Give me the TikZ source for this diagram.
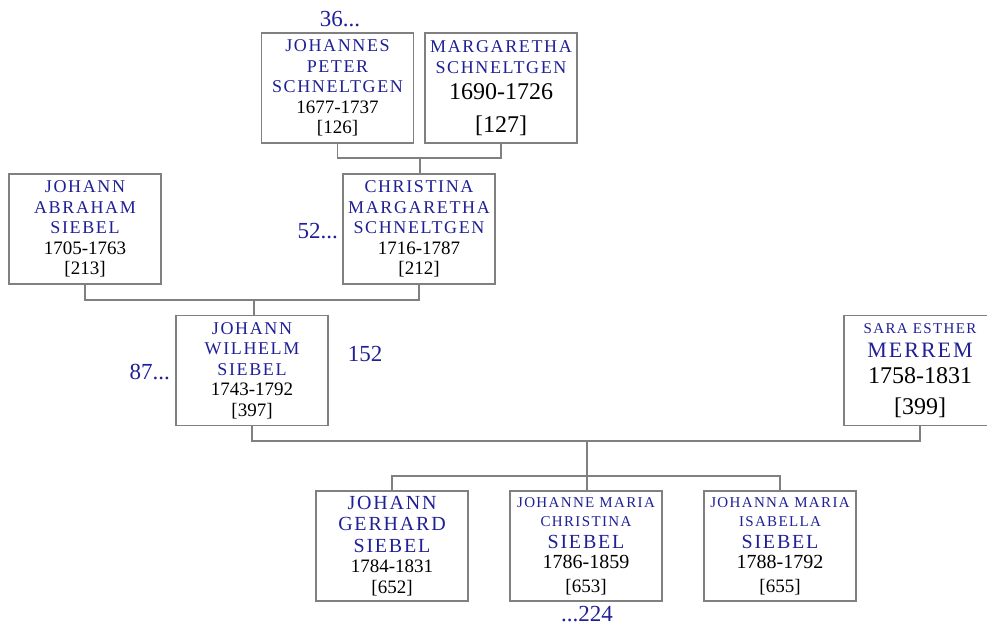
\documentclass[tikz,border=0pt]{standalone}
\usepackage{fontspec}
\setmainfont{Liberation Serif}
\newfontfamily\capsfont[LetterSpace=9]{Liberation Serif}
\definecolor{nameblue}{RGB}{32,32,150}
\definecolor{boxgray}{RGB}{128,128,128}
\newcommand\nm[1]{{\capsfont\fontsize{18}{20.5}\selectfont\color{nameblue}#1}}
\newcommand\ns[1]{{\capsfont\fontsize{15}{20.5}\selectfont\color{nameblue}#1}}
\newcommand\nb[1]{{\capsfont\fontsize{22}{20.5}\selectfont\color{nameblue}#1}}
\newcommand\nt[1]{{\capsfont\fontsize{20}{20.5}\selectfont\color{nameblue}#1}}
\newcommand\dt[1]{{\rmfamily\fontsize{19}{20.5}\selectfont\color{black}#1}}
\newcommand\dm[1]{{\rmfamily\fontsize{20}{20.5}\selectfont\color{black}#1}}
\newcommand\bd[1]{{\rmfamily\fontsize{24}{20.5}\selectfont\color{black}#1}}
\tikzset{
  person/.style={draw=boxgray, line width=1.3pt, minimum width=152pt, minimum height=110pt, inner sep=0pt, align=center, fill=white, font=\fontsize{18}{20.5}\selectfont},
  conn/.style={draw=boxgray, line width=1.3pt},
  gen/.style={text=nameblue, font=\rmfamily\fontsize{23}{26}\selectfont, inner sep=0pt}
}
\begin{document}
\begin{tikzpicture}[x=1pt,y=-1pt]
\useasboundingbox (0,0) rectangle (987,626);
\clip (0,0) rectangle (987,626);
% nodes
\node[person] (jps) at (337.5,88) {\nm{JOHANNES}\\\nm{PETER}\\\nm{SCHNELTGEN}\\\dt{1677-1737}\\\dt{[126]}};
\node[person] (ms) at (501,88) {\nm{MARGARETHA}\\\nm{SCHNELTGEN}\\[6pt]\bd{1690-1726}\\[12pt]\bd{[127]}};
\node[person] (jas) at (85,229) {\nm{JOHANN}\\\nm{ABRAHAM}\\\nm{SIEBEL}\\\dt{1705-1763}\\\dt{[213]}};
\node[person] (cms) at (419,229) {\nm{CHRISTINA}\\\nm{MARGARETHA}\\\nm{SCHNELTGEN}\\\dt{1716-1787}\\\dt{[212]}};
\node[person] (jws) at (252,370.5) {\nm{JOHANN}\\\nm{WILHELM}\\\nm{SIEBEL}\\\dt{1743-1792}\\\dt{[397]}};
\node[person] (sem) at (920,370.5) {\ns{SARA ESTHER}\\[3pt]\nb{MERREM}\\[6pt]\bd{1758-1831}\\[10pt]\bd{[399]}};
\node[person] (jgs) at (392,546) {\nt{JOHANN}\\[1pt]\nt{GERHARD}\\[1pt]\nt{SIEBEL}\\\dt{1784-1831}\\\dt{[652]}};
\node[person] (jmcs) at (586,546) {\ns{JOHANNE MARIA}\\[-1pt]\ns{CHRISTINA}\\[1pt]\nt{SIEBEL}\\\dm{1786-1859}\\[3pt]\dt{[653]}};
\node[person] (jmis) at (780,546) {\ns{JOHANNA MARIA}\\[-1pt]\ns{ISABELLA}\\[1pt]\nt{SIEBEL}\\\dm{1788-1792}\\[3pt]\dt{[655]}};
% junctions
\coordinate (j1) at (420,158);
\coordinate (j2) at (254,300);
\coordinate (j3) at (587,441);
\coordinate (j4) at (587,476);
% connectors
\draw[conn] (jps.south) |- (j1) -| (ms.south);
\draw[conn] (j1) -- (j1 |- cms.north);
\draw[conn] (jas.south) |- (j2) -| (cms.south);
\draw[conn] (j2) -- (j2 |- jws.north);
\draw[conn] (jws.south) |- (j3) -| (sem.south);
\draw[conn] (j3) -- (j4);
\draw[conn] (jgs.north) |- (j4) -| (jmis.north);
\draw[conn] (j4) -- (j4 |- jmcs.north);
% generation labels
\node[gen] (l36) at (340,19) {36...};
\node[gen, anchor=east] (l52) at (338,231) {52...};
\node[gen, anchor=east] (l87) at (170,372) {87...};
\node[gen] (l152) at (365,354) {152};
\node[gen] (l224) at (587,614) {...224};
\end{tikzpicture}
\end{document}
